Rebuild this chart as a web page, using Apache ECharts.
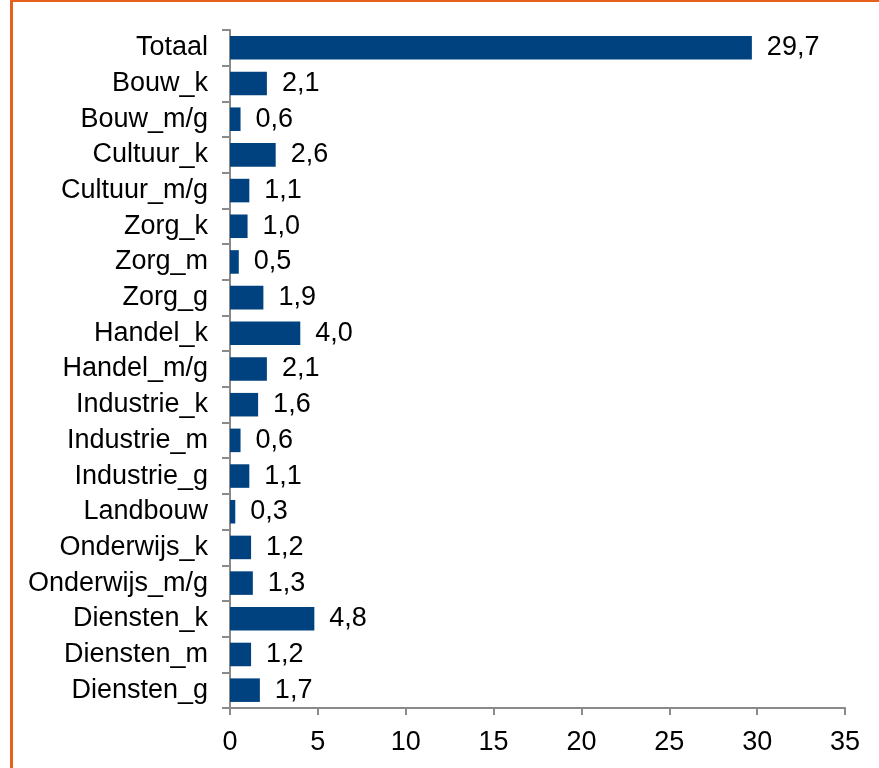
<!DOCTYPE html>
<html>
<head>
<meta charset="utf-8">
<script src="https://cdn.jsdelivr.net/npm/echarts@6/dist/echarts.min.js"></script>
<style>
  html, body { margin: 0; padding: 0; background: #fff; }
  #frame {
    position: absolute; left: 10px; top: 0; width: 900px; height: 800px;
    border-left: 3px solid #e8611c; border-top: 2px solid #e8611c;
  }
  #chart { position: absolute; left: 0; top: 0; width: 879px; height: 768px; }
</style>
</head>
<body>
<div id="frame"></div>
<div id="chart"></div>
<script>
var categories = ["Totaal", "Bouw_k", "Bouw_m/g", "Cultuur_k", "Cultuur_m/g", "Zorg_k", "Zorg_m", "Zorg_g",
    "Handel_k", "Handel_m/g", "Industrie_k", "Industrie_m", "Industrie_g", "Landbouw",
    "Onderwijs_k", "Onderwijs_m/g", "Diensten_k", "Diensten_m", "Diensten_g"];
var values = [29.7, 2.1, 0.6, 2.6, 1.1, 1.0, 0.5, 1.9, 4.0, 2.1, 1.6, 0.6, 1.1, 0.3, 1.2, 1.3, 4.8, 1.2, 1.7];

var font = "Liberation Sans, Arial, sans-serif";
var axisGray = "#8a8a8a";

var myChart = echarts.init(document.getElementById("chart"));
var option = {
    backgroundColor: "transparent",
    animation: false,
    grid: { left: 230, top: 30, right: 34, bottom: 60, containLabel: false },
    xAxis: {
        type: "value",
        min: 0,
        max: 35,
        interval: 5,
        splitLine: { show: false },
        axisLine: { show: true, lineStyle: { color: axisGray, width: 2 } },
        axisTick: { show: true, length: 7, lineStyle: { color: axisGray, width: 2 } },
        axisLabel: { color: "#000", fontFamily: font, fontSize: 27, margin: 21 }
    },
    yAxis: {
        type: "category",
        data: categories,
        inverse: true,
        axisLine: { show: true, lineStyle: { color: axisGray, width: 2 } },
        axisTick: { show: true, length: 8, lineStyle: { color: axisGray, width: 2 } },
        axisLabel: { color: "#000", fontFamily: font, fontSize: 27, margin: 22 }
    },
    series: [
        {
            type: "bar",
            data: values,
            barCategoryGap: "34%",
            itemStyle: { color: "#00427f" },
            label: {
                show: true,
                position: "right",
                distance: 15,
                color: "#000",
                fontFamily: font,
                fontSize: 27,
                formatter: function (p) {
                    return p.value.toFixed(1).replace(".", ",");
                }
            }
        }
    ]
};
myChart.setOption(option);
</script>
</body>
</html>
